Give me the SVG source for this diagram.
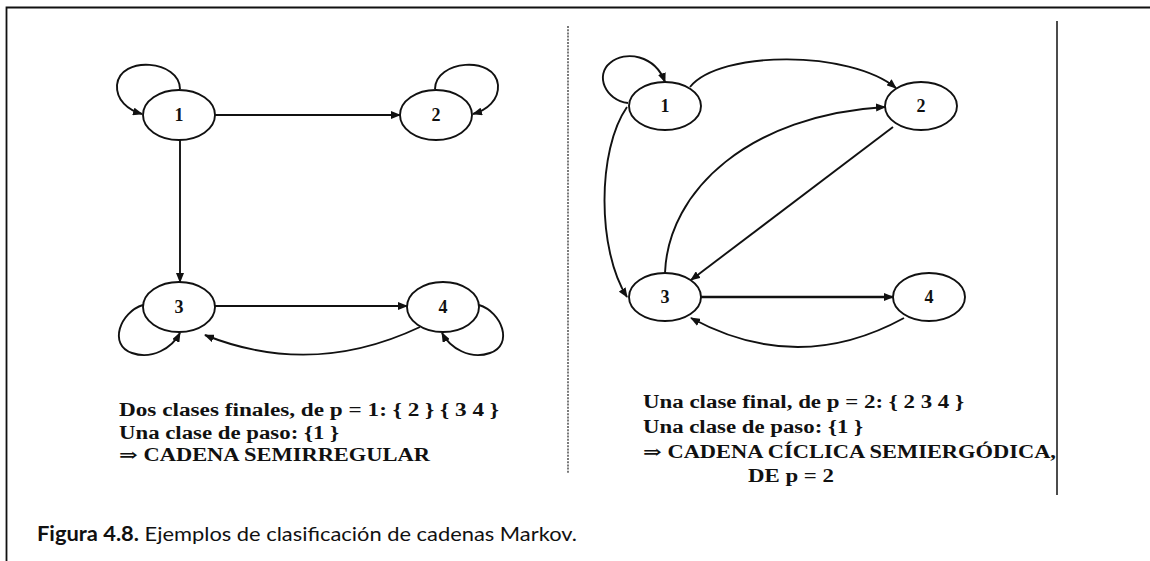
<svg xmlns="http://www.w3.org/2000/svg" width="1150" height="561" viewBox="0 0 1150 561">
<style>
.node ellipse{fill:#fff;stroke:#111;stroke-width:1.9}
.node text{font-family:"Liberation Serif","DejaVu Serif",serif;font-weight:bold;font-size:18px;fill:#111;text-anchor:middle}
.edge{fill:none;stroke:#111;stroke-width:1.9;marker-end:url(#ah)}
.lbl{font-family:"Liberation Serif","DejaVu Serif",serif;font-weight:bold;font-size:18px;fill:#111}
.cap{font-family:Lato,"Open Sans",sans-serif;font-size:20px;fill:#111}
</style>
<defs>
<marker id="ah" markerWidth="10" markerHeight="8" refX="9" refY="4" orient="auto" markerUnits="userSpaceOnUse">
<path d="M0,0 L10,4 L0,8 Z" fill="#111"/>
</marker>
</defs>
<rect width="1150" height="561" fill="#fff"/>
<g id="frame">
<path d="M6.5,561 L6.5,7.5 L1150,7.5" fill="none" stroke="#111" stroke-width="1.8"/>
<line x1="568" y1="26" x2="568" y2="473" stroke="#333" stroke-width="1.3" stroke-dasharray="2,1.2"/>
<line x1="1057" y1="21" x2="1057" y2="495" stroke="#111" stroke-width="1.5"/>
</g>
<g id="connectors">
<path class="edge" d="M180,89 C180,60 120,55 117,85 C116,100 128,110 142,114"/>
<path class="edge" d="M435,89 C435,60 495,55 498,85 C499,100 487,110 473,114"/>
<path class="edge" d="M215,115 L400,115"/>
<path class="edge" d="M180,140 L180,282"/>
<path class="edge" d="M143,305 C120,312 108,345 132,353 C152,360 172,348 180,333"/>
<path class="edge" d="M479,305 C502,312 514,345 490,353 C470,360 450,348 442,333"/>
<path class="edge" d="M215,306 L407,306"/>
<path class="edge" d="M420,327 Q312,378 205,335"/>
<path class="edge" d="M628,103 C605,100 595,75 610,63 C625,50 655,55 665,82"/>
<path class="edge" d="M627,107 C597,150 597,250 627,297"/>
<path class="edge" d="M690,87 C720,50 850,50 896,88"/>
<path class="edge" d="M665,273 C668,190 750,115 885,107"/>
<path class="edge" d="M893,127 L691,280"/>
<path class="edge" d="M700,297 L893,297" style="stroke-width:2.4"/>
<path class="edge" d="M904,318 Q798,376 691,318"/>
</g>
<g id="L1" class="node"><ellipse cx="179" cy="115" rx="36" ry="25"/><text x="179" y="121">1</text></g>
<g id="L2" class="node"><ellipse cx="436" cy="115" rx="36" ry="25"/><text x="436" y="121">2</text></g>
<g id="L3" class="node"><ellipse cx="179" cy="307" rx="36" ry="25"/><text x="179" y="313">3</text></g>
<g id="L4" class="node"><ellipse cx="443" cy="307" rx="36" ry="25"/><text x="443" y="313">4</text></g>
<g id="R1" class="node"><ellipse cx="665" cy="106" rx="36" ry="24"/><text x="665" y="112">1</text></g>
<g id="R2" class="node"><ellipse cx="921" cy="106" rx="36" ry="24"/><text x="921" y="112">2</text></g>
<g id="R3" class="node"><ellipse cx="665" cy="297" rx="36" ry="24"/><text x="665" y="303">3</text></g>
<g id="R4" class="node"><ellipse cx="929" cy="297" rx="36" ry="24"/><text x="929" y="303">4</text></g>
<g id="texts">
<text class="lbl" x="119" y="416" textLength="380" lengthAdjust="spacingAndGlyphs">Dos clases finales, de p = 1: { 2 } { 3 4 }</text>
<text class="lbl" x="119" y="439" textLength="220" lengthAdjust="spacingAndGlyphs">Una clase de paso: {1 }</text>
<text class="lbl" x="119" y="461" textLength="311" lengthAdjust="spacingAndGlyphs">⇒ CADENA SEMIRREGULAR</text>
<text class="lbl" x="643" y="408" textLength="321" lengthAdjust="spacingAndGlyphs">Una clase final, de p = 2: { 2 3 4 }</text>
<text class="lbl" x="643" y="433" textLength="220" lengthAdjust="spacingAndGlyphs">Una clase de paso: {1 }</text>
<text class="lbl" x="643" y="458" textLength="413" lengthAdjust="spacingAndGlyphs">⇒ CADENA CÍCLICA SEMIERGÓDICA,</text>
<text class="lbl" x="748" y="482" textLength="86" lengthAdjust="spacingAndGlyphs">DE p = 2</text>
<text class="cap" x="37" y="541" textLength="540" lengthAdjust="spacingAndGlyphs"><tspan font-weight="bold">Figura 4.8.</tspan> Ejemplos de clasificación de cadenas Markov.</text>
</g>
</svg>
